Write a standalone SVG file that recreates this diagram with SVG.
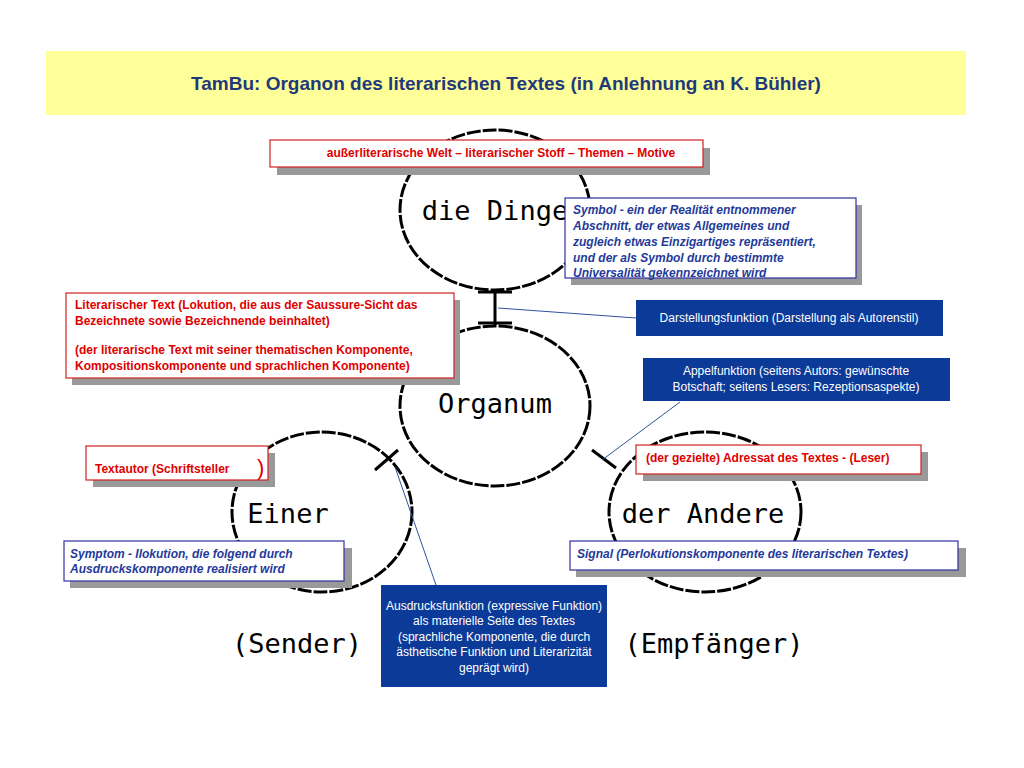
<svg xmlns="http://www.w3.org/2000/svg" width="1024" height="768" viewBox="0 0 1024 768">
<style>
.circ{fill:none;stroke:#000;stroke-width:3;stroke-dasharray:14 2}
.big{font-family:"DejaVu Sans Mono",monospace;font-size:27px;fill:#000;text-anchor:middle}
.sh{fill:#999}
.rb{fill:#fff;stroke:#d02020;stroke-width:1.2}
.bb{fill:#fff;stroke:#3030a0;stroke-width:1.2}
.db{fill:#0b3a98}
.rt{font-family:"Liberation Sans",Arial,sans-serif;font-size:12px;font-weight:bold;fill:#e00000}
.bt{font-family:"Liberation Sans",Arial,sans-serif;font-size:12px;font-weight:bold;font-style:italic;fill:#1f3a9a}
.wt{font-family:"Liberation Sans Narrow","Liberation Sans",Arial,sans-serif;font-size:12px;fill:#fff;text-anchor:middle}
.thin{stroke:#3050a0;stroke-width:1;fill:none}
</style>
<rect width="1024" height="768" fill="#fff"/>
<g id="title"><rect x="46" y="51" width="920" height="64" fill="#ffff99"/>
<text x="506" y="90" text-anchor="middle" font-family="Liberation Sans,Arial,sans-serif" font-size="19" font-weight="bold" fill="#1f3a7a">TamBu: Organon des literarischen Textes (in Anlehnung an K. Bühler)</text></g>
<g id="circles">
<ellipse class="circ" cx="495" cy="210" rx="95" ry="80"/><text class="big" x="495" y="220">die Dinge</text>
<ellipse class="circ" cx="495" cy="406" rx="95" ry="80"/><text class="big" x="495" y="413">Organum</text>
<ellipse class="circ" cx="322" cy="512" rx="90" ry="80"/><text class="big" x="288" y="523">Einer</text>
<ellipse class="circ" cx="705" cy="512" rx="96" ry="80"/><text class="big" x="703" y="523">der Andere</text>
<text class="big" x="297" y="653">(Sender)</text>
<text class="big" x="714" y="653">(Empfänger)</text>
</g>
<g id="connectors">
<path d="M495 290V325M478 292H512M478 323H512M398 450L375 470M592 450L616 468" stroke="#000" stroke-width="3" fill="none"/>
<path class="thin" d="M498 308L636 318M602 460L680 402M395 467L436 585"/>
</g>
<g id="n1"><rect class="sh" x="277" y="148" width="433" height="27"/><rect class="rb" x="270" y="140" width="433" height="27"/>
<text class="rt" x="501" y="157" text-anchor="middle">außerliterarische Welt – literarischer Stoff – Themen – Motive</text></g>
<g id="n2"><rect class="sh" x="571" y="205" width="291" height="80"/><rect class="bb" x="565" y="198" width="291" height="80"/>
<text class="bt" x="573" y="214">Symbol - ein der Realität entnommener</text><text class="bt" x="573" y="230">Abschnitt, der etwas Allgemeines und</text><text class="bt" x="573" y="246">zugleich etwas Einzigartiges repräsentiert,</text><text class="bt" x="573" y="262">und der als Symbol durch bestimmte</text><text class="bt" x="573" y="277">Universalität gekennzeichnet wird</text></g>
<g id="n3"><rect class="sh" x="72" y="300" width="388" height="85"/><rect class="rb" x="66" y="293" width="388" height="85"/>
<text class="rt" x="75" y="309">Literarischer Text (Lokution, die aus der Saussure-Sicht das</text><text class="rt" x="75" y="325">Bezeichnete sowie Bezeichnende beinhaltet)</text><text class="rt" x="75" y="354">(der literarische Text mit seiner thematischen Komponente,</text><text class="rt" x="75" y="370">Kompositionskomponente und sprachlichen Komponente)</text></g>
<g id="n4"><rect class="db" x="636" y="300" width="307" height="36"/><text class="wt" x="789" y="322">Darstellungsfunktion (Darstellung als Autorenstil)</text></g>
<g id="n5"><rect class="db" x="643" y="358" width="307" height="43"/><text class="wt" x="796" y="375">Appelfunktion (seitens Autors: gewünschte</text><text class="wt" x="796" y="391">Botschaft; seitens Lesers: Rezeptionsaspekte)</text></g>
<g id="n6"><rect class="sh" x="93" y="453" width="182" height="34"/><rect class="rb" x="86" y="446" width="182" height="34"/>
<text class="rt" x="95" y="473">Textautor (Schriftsteller</text><text x="257" y="475" font-family="Liberation Sans,sans-serif" font-size="22" fill="#e00000">)</text></g>
<g id="n7"><rect class="sh" x="643" y="452" width="285" height="29"/><rect class="rb" x="636" y="445" width="285" height="29"/>
<text class="rt" x="646" y="462">(der gezielte) Adressat des Textes - (Leser)</text></g>
<g id="n8"><rect class="sh" x="70" y="548" width="282" height="40"/><rect class="bb" x="64" y="541" width="280" height="40"/>
<text class="bt" x="70" y="558">Symptom - Ilokution, die folgend durch</text><text class="bt" x="70" y="573">Ausdruckskomponente realisiert wird</text></g>
<g id="n9"><rect class="sh" x="576" y="548" width="390" height="29"/><rect class="bb" x="570" y="541" width="388" height="29"/>
<text class="bt" x="577" y="558">Signal  (Perlokutionskomponente des literarischen Textes)</text></g>
<g id="n10"><rect class="db" x="381" y="585" width="226" height="102"/>
<text class="wt" x="494" y="610">Ausdrucksfunktion (expressive Funktion)</text><text class="wt" x="494" y="625">als materielle Seite des Textes</text><text class="wt" x="494" y="641">(sprachliche Komponente, die durch</text><text class="wt" x="494" y="656">ästhetische Funktion und Literarizität</text><text class="wt" x="494" y="672">geprägt wird)</text></g>
</svg>
